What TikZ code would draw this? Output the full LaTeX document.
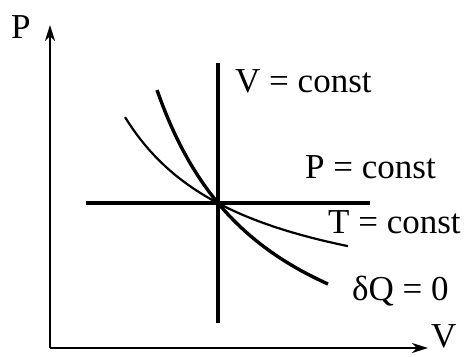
\documentclass[tikz,border=0pt]{standalone}
\usepackage{fontspec}
\setmainfont{Liberation Serif}
\usepackage{tikz}
\usetikzlibrary{arrows.meta, positioning, calc}

\begin{document}
\begin{tikzpicture}[
			x=1pt, y=-1pt,
			every node/.style={font=\fontsize{35}{40}\selectfont},
			axis/.style={
				-{Stealth[length=16pt,width=10pt,inset=5pt]},
				line width=2.2pt, draw=black
			},
			isoline/.style={
				line width=3.8pt, draw=black
			},
			isotherm/.style={
				line width=2.2pt, draw=black
			},
			adiabat/.style={
				line width=3.4pt, draw=black
			},
			curvelabel/.style={
				anchor=base west, inner sep=0pt
			}
			]
			
			\useasboundingbox (0,0) rectangle (465,356);
			
			% Axes
			\coordinate (O)  at (50,348);
			\coordinate (Pt) at (50,25);
			\coordinate (Vt) at (428,348);
			\draw[axis] (O) -- (Pt);
			\draw[axis] (O) -- (Vt);
			\node[curvelabel] (plab) at (11,38)  {P};
			\node[curvelabel] (vlab) at (431,347) {V};
			
			% Isochore and isobar
			\coordinate (X)  at (218,203);
			\coordinate (vc1) at (218,63);
			\coordinate (vc2) at (218,323);
			\coordinate (pc1) at (86,203);
			\coordinate (pc2) at (370,203);
			\draw[isoline] (vc1) -- (vc2);
			\draw[isoline] (pc1) -- (pc2);
			
			% Isotherm and adiabat
			\draw[isotherm] plot[domain=125:348, samples=60]
				(\x, {318 - 24.946/((\x-0.81)/1000)});
			\draw[adiabat] plot[domain=157:328, samples=60]
				(\x, {412 - 36.318/((\x-44.2)/1000)});
			
			% Labels
			\node[curvelabel] (vconst) at (235,92)  {V = const};
			\node[curvelabel] (pconst) at (305,178) {P = const};
			\node[curvelabel] (tconst) at (328,233) {T = const};
			\node[curvelabel] (dq)     at (352,300) {δQ = 0};
			
		\end{tikzpicture}
\end{document}
